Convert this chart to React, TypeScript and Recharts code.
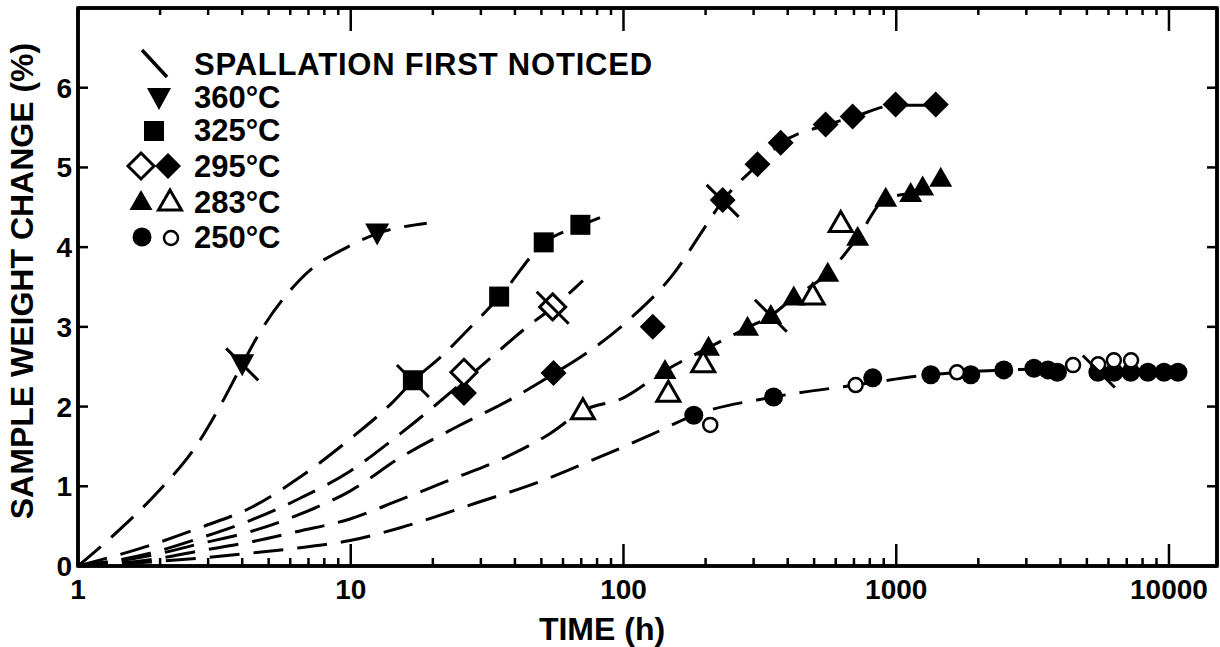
import React from "react";
import { ComposedChart, Line, Scatter, XAxis, YAxis, ReferenceLine, ReferenceArea } from "recharts";

// [time (h), weight change (%)]
const curve360 = [[1, 0], [1.51, 0.54], [2.04, 0.99], [2.68, 1.48], [3.36, 2.04], [4.0, 2.53], [4.64, 2.93], [6.08, 3.48], [7.5, 3.78], [9.0, 3.94], [12.5, 4.17], [19, 4.3]];
const curve325 = [[1, 0], [1.84, 0.26], [2.85, 0.49], [4.35, 0.74], [6.42, 1.1], [10.0, 1.6], [14.2, 2.05], [16.9, 2.32], [21.5, 2.63], [28.1, 3.03], [35, 3.37], [51, 4.05], [69.5, 4.27], [82, 4.37]];
const curve295open = [[1, 0], [1.84, 0.16], [2.8, 0.35], [4.27, 0.57], [6.52, 0.85], [9.94, 1.19], [15.2, 1.66], [26, 2.32], [34.4, 2.68], [45.5, 3.03], [55, 3.24], [71, 3.58]];
const curve295 = [[1, 0], [1.84, 0.13], [2.8, 0.28], [4.27, 0.43], [6.52, 0.65], [9.94, 0.94], [15.2, 1.36], [24.6, 1.75], [39, 2.1], [55.4, 2.41], [71, 2.64], [108, 3.13], [153, 3.67], [197, 4.23], [231, 4.58], [310, 5.03], [377, 5.3], [551, 5.53], [692, 5.63], [995, 5.78], [1396, 5.78]];
const curve283 = [[1, 0], [1.84, 0.08], [2.8, 0.19], [4.27, 0.3], [6.52, 0.44], [9.94, 0.59], [14.9, 0.82], [23.5, 1.09], [36.8, 1.36], [53.7, 1.66], [71, 1.95], [100, 2.11], [142, 2.45], [205, 2.74], [285, 2.99], [347, 3.14], [421, 3.37], [561, 3.67], [722, 4.12], [915, 4.61], [1130, 4.67]];
const curve250 = [[1, 0], [1.84, 0.05], [2.8, 0.1], [4.27, 0.16], [6.52, 0.23], [9.94, 0.32], [15.2, 0.48], [28.8, 0.79], [48.6, 1.05], [78.3, 1.34], [127, 1.65], [181, 1.89], [355, 2.12], [710, 2.27], [1339, 2.4], [2479, 2.46], [3200, 2.47]];

const pts360 = [[4.0, 2.53], [12.5, 4.17]];
const pts325 = [[16.9, 2.33], [35, 3.38], [51, 4.06], [69.5, 4.28]];
const pts295 = [[26, 2.17], [55.4, 2.42], [128, 3.0], [231, 4.59], [310, 5.04], [377, 5.31], [551, 5.54], [692, 5.64], [995, 5.79], [1396, 5.79]];
const pts295open = [[26, 2.43], [55, 3.25]];
const pts283 = [[142, 2.46], [205, 2.75], [285, 3.0], [347, 3.15], [421, 3.38], [561, 3.68], [722, 4.13], [915, 4.62], [1130, 4.68], [1250, 4.76], [1456, 4.87]];
const pts283open = [[71, 1.96], [146, 2.18], [196, 2.55], [494, 3.4], [626, 4.31]];
const pts250 = [[181, 1.89], [355, 2.12], [820, 2.36], [1339, 2.4], [1877, 2.4], [2479, 2.46], [3198, 2.48], [3600, 2.46], [3900, 2.43], [5486, 2.43], [6286, 2.43], [7240, 2.43], [8370, 2.43], [9590, 2.43], [10790, 2.43]];
const pts250open = [[208, 1.77], [710, 2.27], [1670, 2.43], [4450, 2.52], [5500, 2.53], [6280, 2.58], [7260, 2.58]];
const spallation = [[4.0, 2.53], [16.9, 2.32], [55, 3.24], [231, 4.58], [347, 3.14], [5530, 2.44]];

const xTicks = [1, 2, 3, 4, 5, 6, 7, 8, 9, 10, 20, 30, 40, 50, 60, 70, 80, 90, 100, 200, 300, 400, 500, 600, 700, 800, 900, 1000, 2000, 3000, 4000, 5000, 6000, 7000, 8000, 9000, 10000];
const xLabelled = [1, 10, 100, 1000, 10000];
const yTicks = [0, 1, 2, 3, 4, 5, 6];
const X_MAX = 15000;
const Y_MAX = 7;

const FONT = "'Liberation Sans', Arial, Helvetica, sans-serif";
const INK = "#000";

const W = 1220;
const H = 647;
const MARGIN = { top: 8, right: 3, bottom: 0, left: 0 };
const PLOT_TOP = MARGIN.top;
const PLOT_RIGHT = W - MARGIN.right;

const toPts = (rows: number[][]) => rows.map(([t, w]) => ({ t, w }));

// marker shapes
const DownTri = ({ cx, cy }: any) => (
  <polygon points={`${cx - 12},${cy - 10} ${cx + 12},${cy - 10} ${cx},${cy + 12}`} fill={INK} />
);
const Square = ({ cx, cy }: any) => <rect x={cx - 10} y={cy - 10} width={20} height={20} fill={INK} />;
const Diamond = ({ cx, cy, open }: any) => (
  <polygon
    points={`${cx},${cy - 13} ${cx + 13},${cy} ${cx},${cy + 13} ${cx - 13},${cy}`}
    fill={open ? "#fff" : INK}
    stroke={INK}
    strokeWidth={open ? 3 : 0}
  />
);
const UpTri = ({ cx, cy, open }: any) => (
  <polygon
    points={`${cx - 11.5},${cy + 9} ${cx + 11.5},${cy + 9} ${cx},${cy - 11}`}
    fill={open ? "#fff" : INK}
    stroke={INK}
    strokeWidth={open ? 3 : 0}
    strokeLinejoin="miter"
  />
);
const Dot = ({ cx, cy, open }: any) =>
  open ? (
    <circle cx={cx} cy={cy} r={7} fill="#fff" stroke={INK} strokeWidth={2.5} />
  ) : (
    <circle cx={cx} cy={cy} r={9.5} fill={INK} />
  );
const Slash = ({ cx, cy }: any) => (
  <line x1={cx - 16} y1={cy - 16} x2={cx + 16} y2={cy + 16} stroke={INK} strokeWidth={3} />
);

const tickText = { fontSize: 28, fontWeight: "bold" as const, fontFamily: FONT, fill: INK };

// inward ticks + labels on the bottom and left axes
const BottomTick = ({ x, y, payload }: any) => {
  const major = xLabelled.includes(payload.value);
  return (
    <g>
      <line x1={x} y1={y} x2={x} y2={y - (major ? 22 : 8)} stroke={INK} strokeWidth={2.5} />
      {major && (
        <text x={x} y={y + 33} textAnchor="middle" {...tickText}>
          {payload.value}
        </text>
      )}
    </g>
  );
};
const LeftTick = ({ x, y, payload }: any) => (
  <g>
    <line x1={x} y1={y} x2={x + 10} y2={y} stroke={INK} strokeWidth={2.5} />
    <text x={x - 6} y={y + 10} textAnchor="end" {...tickText}>
      {payload.value}
    </text>
  </g>
);

// mirrored inward ticks on the top and right edges of the frame
const TopTick = ({ x, payload }: any) => {
  const major = xLabelled.includes(payload.value);
  return <line x1={x} y1={PLOT_TOP} x2={x} y2={PLOT_TOP + (major ? 23 : 7)} stroke={INK} strokeWidth={2.5} />;
};
const RightTick = ({ y }: any) => (
  <line x1={PLOT_RIGHT} y1={y} x2={PLOT_RIGHT - 10} y2={y} stroke={INK} strokeWidth={2.5} />
);

const legendText = { fontSize: 31, fontWeight: "bold" as const, fontFamily: FONT, fill: INK };

const LegendBox = () => (
  <svg
    width={700}
    height={270}
    style={{ position: "absolute", left: 0, top: 0, pointerEvents: "none" }}
  >
    <line x1={142} y1={50} x2={167} y2={77} stroke={INK} strokeWidth={3.5} />
    <text x={194} y={75} letterSpacing={0.8} {...legendText}>SPALLATION FIRST NOTICED</text>
    <DownTri cx={159} cy={98} />
    <text x={194} y={108} {...legendText}>360°C</text>
    <Square cx={154} cy={131} />
    <text x={194} y={141} {...legendText}>325°C</text>
    <Diamond cx={141} cy={166} open />
    <Diamond cx={168} cy={166} />
    <text x={194} y={177} {...legendText}>295°C</text>
    <UpTri cx={141} cy={201} />
    <UpTri cx={170} cy={201} open />
    <text x={194} y={213} {...legendText}>283°C</text>
    <Dot cx={142} cy={237} />
    <Dot cx={171} cy={238} open />
    <text x={194} y={248} {...legendText}>250°C</text>
  </svg>
);

const curves = [curve360, curve325, curve295open, curve295, curve283, curve250];

// same scales as the main chart; only draws the top/right frame edges and their ticks
const FrameOverlay = () => (
  <div style={{ position: "absolute", left: 0, top: 0, pointerEvents: "none" }}>
    <ComposedChart width={W} height={H} margin={MARGIN}>
      <XAxis
        dataKey="t"
        type="number"
        scale="log"
        domain={[1, X_MAX]}
        allowDataOverflow
        ticks={xTicks}
        interval={0}
        height={81}
        tickSize={0}
        tickMargin={0}
        tickLine={false}
        axisLine={false}
        tick={<TopTick />}
      />
      <YAxis
        dataKey="w"
        type="number"
        domain={[0, Y_MAX]}
        allowDataOverflow
        ticks={yTicks}
        interval={0}
        width={78}
        tickLine={false}
        axisLine={false}
        tick={<RightTick />}
      />
      <ReferenceArea x1={1} x2={X_MAX} y1={0} y2={Y_MAX} fill="none" stroke={INK} strokeWidth={3.5} ifOverflow="visible" />
      <ReferenceLine y={Y_MAX} stroke={INK} strokeWidth={3.5} ifOverflow="visible" />
      <ReferenceLine x={X_MAX} stroke={INK} strokeWidth={3.5} ifOverflow="visible" />
      <Line data={toPts(curve250)} dataKey="w" stroke="none" dot={false} isAnimationActive={false} />
    </ComposedChart>
  </div>
);

export default function App() {
  return (
    <div style={{ position: "absolute", left: 0, top: 0, width: W, height: H }}>
      <ComposedChart width={W} height={H} margin={MARGIN}>
        <XAxis
          dataKey="t"
          type="number"
          scale="log"
          domain={[1, X_MAX]}
          allowDataOverflow
          ticks={xTicks}
          interval={0}
          height={81}
          tickSize={0}
          tickMargin={0}
          tickLine={false}
          tick={<BottomTick />}
          axisLine={{ stroke: INK, strokeWidth: 3.5 }}
          label={() => (
            <text x={602} y={640} textAnchor="middle" fontSize={32} fontWeight="bold" fontFamily={FONT} fill={INK}>
              TIME (h)
            </text>
          )}
        />
        <YAxis
          dataKey="w"
          type="number"
          domain={[0, Y_MAX]}
          allowDataOverflow
          ticks={yTicks}
          interval={0}
          width={78}
          tickSize={0}
          tickMargin={0}
          tickLine={false}
          tick={<LeftTick />}
          axisLine={{ stroke: INK, strokeWidth: 3.5 }}
          label={() => (
            <text
              x={33}
              y={281}
              transform="rotate(-90, 33, 281)"
              textAnchor="middle"
              fontSize={32}
              fontWeight="bold"
              fontFamily={FONT}
              fill={INK}
            >
              SAMPLE WEIGHT CHANGE (%)
            </text>
          )}
        />

        {curves.map((c, i) => (
          <Line
            key={i}
            data={toPts(c)}
            dataKey="w"
            type="monotone"
            stroke={INK}
            strokeWidth={3}
            strokeDasharray="30 14"
            dot={false}
            activeDot={false}
            isAnimationActive={false}
          />
        ))}

        <Scatter data={toPts(pts360)} dataKey="w" shape={(p: any) => <DownTri {...p} />} isAnimationActive={false} />
        <Scatter data={toPts(pts325)} dataKey="w" shape={(p: any) => <Square {...p} />} isAnimationActive={false} />
        <Scatter data={toPts(pts295)} dataKey="w" shape={(p: any) => <Diamond {...p} />} isAnimationActive={false} />
        <Scatter data={toPts(pts295open)} dataKey="w" shape={(p: any) => <Diamond {...p} open />} isAnimationActive={false} />
        <Scatter data={toPts(pts283)} dataKey="w" shape={(p: any) => <UpTri {...p} />} isAnimationActive={false} />
        <Scatter data={toPts(pts283open)} dataKey="w" shape={(p: any) => <UpTri {...p} open />} isAnimationActive={false} />
        <Scatter data={toPts(pts250)} dataKey="w" shape={(p: any) => <Dot {...p} />} isAnimationActive={false} />
        <Scatter data={toPts(pts250open)} dataKey="w" shape={(p: any) => <Dot {...p} open />} isAnimationActive={false} />
        <Scatter data={toPts(spallation)} dataKey="w" shape={(p: any) => <Slash {...p} />} isAnimationActive={false} />
      </ComposedChart>
      <FrameOverlay />
      <LegendBox />
    </div>
  );
}
